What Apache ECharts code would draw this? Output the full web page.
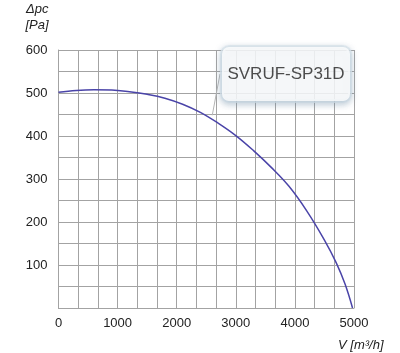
<!DOCTYPE html>
<html>
<head>
<meta charset="utf-8">
<script src="https://cdn.jsdelivr.net/npm/echarts@6/dist/echarts.min.js"></script>
<style>
  html, body { margin: 0; padding: 0; background: #fff; }
  #chart { width: 400px; height: 353px; }
</style>
</head>
<body>
<div id="chart"></div>
<script>
// 风量 V [m3/h] 与 静压 Δpc [Pa]
const flow = [0, 300, 600, 900, 1200, 1500, 1800, 2100, 2400, 2700, 3000, 3300, 3600, 3900, 4200, 4500, 4700, 4850, 4975];
const pressure = [502, 506, 507.5, 507, 503, 497, 488, 474, 455, 430, 401, 366, 327, 283, 226, 158, 105, 55, 0];
const modelName = 'SVRUF-SP31D';
const labelAnchor = [2600, 447];

const chart = echarts.init(document.getElementById('chart'));
const gridColor = '#a3a3a3';
const font = 'Liberation Sans, Arial, sans-serif';

const option = {
  animation: false,
  grid: { left: 58.5, right: 46, top: 50, bottom: 45 },
  xAxis: {
    type: 'value',
    min: 0,
    max: 5000,
    interval: 1000,
    name: 'V [m³/h]',
    nameLocation: 'end',
    nameGap: -16,
    nameTextStyle: {
      fontFamily: font, fontSize: 13, fontStyle: 'italic', color: '#222',
      align: 'left', verticalAlign: 'top', padding: [31, 0, 0, 0]
    },
    axisLine: { lineStyle: { color: gridColor } },
    axisTick: { show: false },
    axisLabel: { fontFamily: font, fontSize: 13, color: '#222', margin: 9, formatter: v => String(v) },
    splitLine: { lineStyle: { color: gridColor } },
    minorTick: { show: false, splitNumber: 3 },
    minorSplitLine: { show: true, lineStyle: { color: gridColor } }
  },
  yAxis: {
    type: 'value',
    min: 0,
    max: 600,
    interval: 100,
    name: 'Δpc\n[Pa]',
    nameLocation: 'end',
    nameGap: 17,
    nameTextStyle: {
      fontFamily: font, fontSize: 13, fontStyle: 'italic', color: '#222',
      align: 'right', padding: [0, 10, 0, 0], lineHeight: 16
    },
    axisLine: { show: true, lineStyle: { color: gridColor } },
    axisTick: { show: false },
    axisLabel: {
      fontFamily: font, fontSize: 13, color: '#222', margin: 11,
      formatter: v => (v === 0 ? '' : String(v))
    },
    splitLine: { lineStyle: { color: gridColor } },
    minorTick: { show: false, splitNumber: 2 },
    minorSplitLine: { show: true, lineStyle: { color: gridColor } }
  },
  series: [
    {
      type: 'line',
      data: flow.map((v, i) => [v, pressure[i]]),
      smooth: 0.4,
      showSymbol: false,
      lineStyle: { color: '#4a44a8', width: 1.5 }
    },
    {
      // 型号标注框
      type: 'scatter',
      data: [labelAnchor],
      symbolSize: 1,
      itemStyle: { color: 'rgba(0,0,0,0)' },
      label: {
        show: true,
        formatter: modelName,
        fontFamily: font,
        fontSize: 17,
        color: '#222',
        backgroundColor: '#fff',
        borderColor: '#dde7ee',
        borderWidth: 2,
        borderRadius: 7,
        shadowColor: 'rgba(110,140,165,0.45)',
        shadowBlur: 6,
        shadowOffsetY: 2,
        width: 112,
        height: 20,
        padding: [17, 8],
        align: 'center',
        verticalAlign: 'middle'
      },
      labelLayout: { x: 286, y: 74 },
      labelLine: { show: true, lineStyle: { color: '#b5b5b5', width: 1 } }
    }
  ]
};

chart.setOption(option);
</script>
</body>
</html>
